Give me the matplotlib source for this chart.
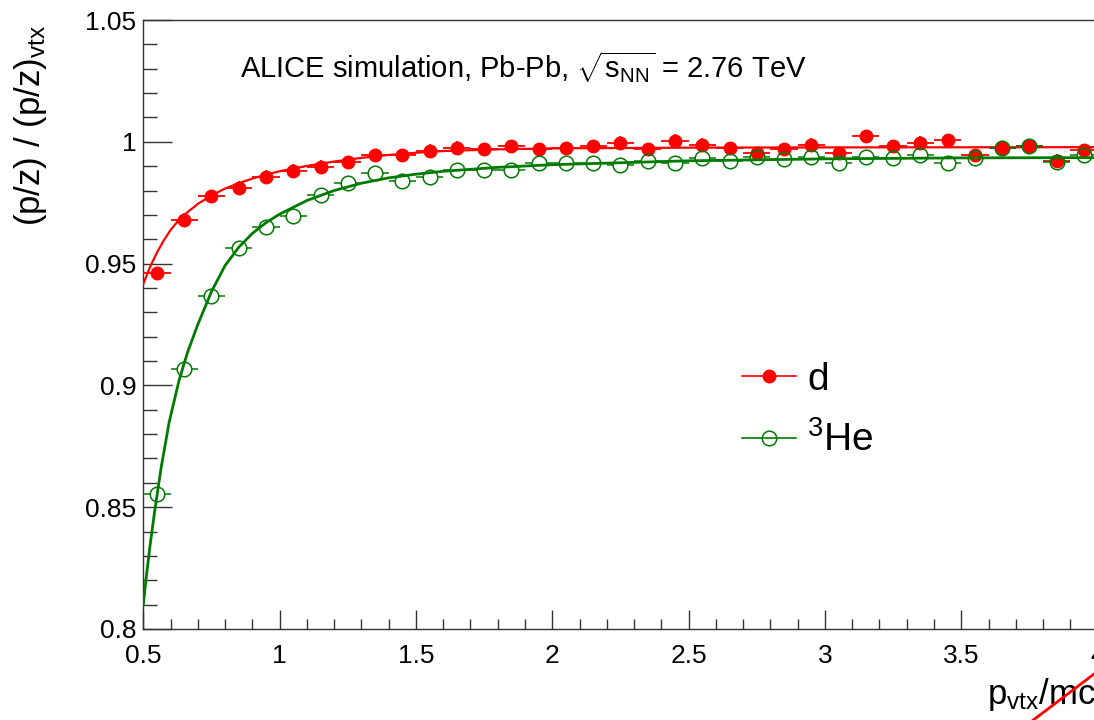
import matplotlib
matplotlib.use("Agg")
import matplotlib.pyplot as plt
from matplotlib.lines import Line2D
from matplotlib.ticker import MultipleLocator, FuncFormatter

plt.rcParams['font.family'] = ['Liberation Sans', 'DejaVu Sans']
plt.rcParams['mathtext.fontset'] = 'custom'
plt.rcParams['mathtext.rm'] = 'Liberation Sans'
plt.rcParams['mathtext.it'] = 'Liberation Sans:italic'
plt.rcParams['mathtext.bf'] = 'Liberation Sans:bold'

# ---------------- data ----------------
x_bins = [0.55, 0.65, 0.75, 0.85, 0.95, 1.05, 1.15, 1.25, 1.35, 1.45, 1.55, 1.65,
          1.75, 1.85, 1.95, 2.05, 2.15, 2.25, 2.35, 2.45, 2.55, 2.65, 2.75,
          2.85, 2.95, 3.05, 3.15, 3.25, 3.35, 3.45, 3.55, 3.65, 3.75, 3.85, 3.95]
x_halfwidth = 0.05

d_vals = [0.9460, 0.9680, 0.9778, 0.9812, 0.9857, 0.9881, 0.9898, 0.9917, 0.9946, 0.9946, 0.9963, 0.9976,
          0.9970, 0.9983, 0.9970, 0.9974, 0.9983, 0.9997, 0.9970, 1.0005, 0.9988, 0.9974, 0.9952,
          0.9970, 0.9988, 0.9953, 1.0022, 0.9981, 0.9997, 1.0008, 0.9946, 0.9974, 0.9983, 0.9923, 0.9967]
d_err = 0.0026

he3_vals = [0.8553, 0.9066, 0.9366, 0.9562, 0.9650, 0.9694, 0.9781, 0.9829, 0.9871, 0.9839, 0.9857, 0.9884,
            0.9884, 0.9884, 0.9914, 0.9912, 0.9912, 0.9905, 0.9923, 0.9912, 0.9933, 0.9923, 0.9939,
            0.9929, 0.9939, 0.9914, 0.9939, 0.9933, 0.9946, 0.9914, 0.9933, 0.9974, 0.9983, 0.9919, 0.9946]

# fit curves
d_fit_x = [0.50, 0.525, 0.55, 0.575, 0.60, 0.625, 0.65, 0.70, 0.75, 0.80, 0.85, 0.90, 0.95, 1.00,
           1.1, 1.2, 1.3, 1.4, 1.5, 1.6, 1.8, 2.0, 2.5, 3.0, 4.0]
d_fit_y = [0.9416, 0.9487, 0.9545, 0.9595, 0.9638, 0.9672, 0.9700, 0.9745, 0.9780, 0.9808, 0.9830, 0.9849,
           0.9865, 0.9879, 0.9901, 0.9919, 0.9934, 0.9946, 0.9955, 0.9962, 0.9969, 0.9973, 0.9976,
           0.9977, 0.9978]

he3_fit_x = [0.50, 0.51, 0.525, 0.54, 0.565, 0.595, 0.631, 0.662, 0.70, 0.75, 0.80, 0.85, 0.90, 0.95,
             1.00, 1.1, 1.2, 1.3, 1.4, 1.5, 1.6, 1.8, 2.0, 2.5, 3.0, 3.5, 4.0]
he3_fit_y = [0.8100, 0.8205, 0.8345, 0.8470, 0.8660, 0.8850, 0.9020, 0.9135, 0.9250, 0.9385, 0.9492,
             0.9567, 0.9624, 0.9668, 0.9703, 0.9759, 0.9800, 0.9830, 0.9852, 0.9867, 0.9879, 0.9895,
             0.9906, 0.9922, 0.9930, 0.9934, 0.9935]

labels = ["d", r"$^{\mathregular{3}}$He"]
title_text = r"ALICE simulation, Pb-Pb, $\sqrt{\mathregular{s}_{\mathregular{NN}}}$ = 2.76 TeV"
ylabel_text = r"(p/z) / (p/z)$_{\mathregular{vtx}}$"
xlabel_text = r"p$_{\mathregular{vtx}}$/mc"

red = "#ff0000"
green = "#007a00"

# ---------------- figure ----------------
W, H = 1094, 720
fig = plt.figure(figsize=(W / 100, H / 100), dpi=100)
x0, x1 = 143.3, 1097.6
y0, y1 = 20.0, 629.0
ax = fig.add_axes([x0 / W, 1 - y1 / H, (x1 - x0) / W, (y1 - y0) / H])

# deuteron points
ax.errorbar(x_bins, d_vals, xerr=x_halfwidth, yerr=d_err, fmt='o', color=red,
            ms=9, elinewidth=1.3, capsize=0, zorder=3)
ax.plot(d_fit_x, d_fit_y, color=red, lw=1.6, zorder=4)

# 3He points: horizontal bars stop at the open marker's edge
gap = 7.0 / ((x1 - x0) / 3.5)  # marker radius (px) in data units
ax.hlines(he3_vals, [x - x_halfwidth for x in x_bins], [x - gap for x in x_bins],
          color=green, lw=1.1, zorder=5)
ax.hlines(he3_vals, [x + gap for x in x_bins], [x + x_halfwidth for x in x_bins],
          color=green, lw=1.1, zorder=5)
ax.plot(x_bins, he3_vals, 'o', color=green, mfc='none', mec=green, mew=1.1, ms=10.5,
        linestyle='none', zorder=5)
ax.plot(he3_fit_x, he3_fit_y, color=green, lw=2.0, zorder=6)

ax.set_xlim(0.5, 4.0)
ax.set_ylim(0.8, 1.05)

ax.xaxis.set_major_locator(MultipleLocator(0.5))
ax.xaxis.set_minor_locator(MultipleLocator(0.1))
ax.yaxis.set_major_locator(MultipleLocator(0.05))
ax.yaxis.set_minor_locator(MultipleLocator(0.01))
fmt = FuncFormatter(lambda v, p: "%g" % round(v, 4))
ax.xaxis.set_major_formatter(fmt)
ax.yaxis.set_major_formatter(fmt)

ax.tick_params(axis='both', which='both', direction='in', color='#333333', width=1.0,
               labelsize=19, top=False, right=False)
ax.tick_params(axis='x', which='major', length=14, pad=11)
ax.tick_params(axis='x', which='minor', length=7)
ax.tick_params(axis='y', which='major', length=21, pad=5)
ax.tick_params(axis='y', which='minor', length=10)
for s in ax.spines.values():
    s.set_color('#333333')
    s.set_linewidth(1.0)

# title text
ax.text((240 - x0) / (x1 - x0), (y1 - 67) / (y1 - y0), title_text, transform=ax.transAxes,
        ha='left', va='center', fontsize=21)

# axis labels
ax.set_ylabel(ylabel_text, fontsize=25, va='center')
ax.yaxis.set_label_coords((30.5 - x0) / (x1 - x0), (y1 - 125) / (y1 - y0))
ax.set_xlabel(xlabel_text, fontsize=25, ha='left', va='baseline')
ax.xaxis.set_label_coords((987 - x0) / (x1 - x0), (y1 - 704) / (y1 - y0))

# legend
handles = [Line2D([], [], color=red, lw=1.2, marker='o', ms=9),
           Line2D([], [], color=green, lw=1.2, marker='o', ms=10.5, mfc='none', mew=1.1)]
ax.legend(handles, labels, loc='upper left', bbox_to_anchor=(741.7 / W, 1 - 362 / H),
          bbox_transform=fig.transFigure, frameon=False, fontsize=28, borderpad=0,
          borderaxespad=0, handlelength=1.4, handletextpad=0.28, labelspacing=0.6)

# stray red line at the bottom right
fig.add_artist(Line2D([1033.3 / W, 1095 / W], [0.0, 1 - 673.3 / H], transform=fig.transFigure,
                      color=red, lw=2))

fig.savefig("out.png", dpi=100)
